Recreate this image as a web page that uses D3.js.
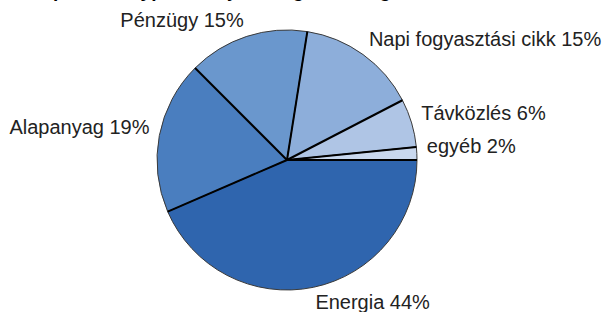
<!DOCTYPE html>
<html>
<head>
<meta charset="utf-8">
<script src="https://cdn.jsdelivr.net/npm/d3@7"></script>
<style>
  body { margin: 0; background: #fff; }
  svg { display: block; }
</style>
</head>
<body>
<div id="chart" style="width:606px;height:312px"></div>
<script>
const sectors = ["Energia", "Alapanyag", "Pénzügy", "Napi fogyasztási cikk", "Távközlés", "egyéb"];
const shares = [43.5, 19, 15, 14.9, 6, 1.6];
const colors = ["#2f65ae", "#4a7ebf", "#6a97cd", "#8daeda", "#afc5e5", "#c9d8ee"];
const title = "Az alap részvényportfoliójának ágazati megoszlása";

function pie_chart(element_id) {
    const el = document.getElementById(element_id)
    const width = el.clientWidth
    const height = el.clientHeight
    const cx = 287, cy = 160, radius = 130
    d3.select(`#${element_id}`).selectAll("svg").remove()
    const svg = d3.select(`#${element_id}`)
        .append("svg")
        .attr("width", width)
        .attr("height", height)

    // title sits mostly above the visible area, as in the source
    svg.append("text")
        .attr("x", -2)
        .attr("y", -3)
        .attr("font-family", "Liberation Sans, Arial, sans-serif")
        .attr("font-size", "19px")
        .attr("font-weight", "bold")
        .attr("fill", "#000")
        .text(title);

    const data = sectors.map((s, i) => ({ sector: s, share: shares[i], color: colors[i] }))

    const pie = d3.pie()
        .sort(null)
        .value(d => d.share)
        .startAngle(Math.PI / 2)
        .endAngle(Math.PI / 2 + 2 * Math.PI);
    const arcs = pie(data)

    const arc = d3.arc().innerRadius(0).outerRadius(radius);
    const g = svg.append("g").attr("transform", `translate(${cx},${cy})`);

    g.selectAll(".slice")
        .data(arcs)
        .enter().append("path")
        .attr("class", "slice")
        .attr("d", arc)
        .attr("fill", d => d.data.color)
        .attr("stroke", "#3a3a3a")
        .attr("stroke-width", 1);

    // dark dividing lines between slices
    g.selectAll(".divider")
        .data(arcs)
        .enter().append("line")
        .attr("class", "divider")
        .attr("x1", 0).attr("y1", 0)
        .attr("x2", d => radius * Math.sin(d.startAngle))
        .attr("y2", d => -radius * Math.cos(d.startAngle))
        .attr("stroke", "#000")
        .attr("stroke-width", 2);

    const label_r = radius + 10
    g.selectAll(".label")
        .data(arcs)
        .enter().append("text")
        .attr("class", "label")
        .attr("x", d => label_r * Math.sin((d.startAngle + d.endAngle) / 2))
        .attr("y", d => {
            const a = (d.startAngle + d.endAngle) / 2
            const down = -Math.cos(a)
            return label_r * down + Math.max(0, down) * 12
        })
        .attr("text-anchor", d => Math.sin((d.startAngle + d.endAngle) / 2) >= 0 ? "start" : "end")
        .attr("font-family", "Liberation Sans, Arial, sans-serif")
        .attr("font-size", "20px")
        .attr("fill", "#222")
        .text(d => `${d.data.sector} ${Math.round(d.data.share)}%`);
}

pie_chart("chart")
</script>
</body>
</html>
